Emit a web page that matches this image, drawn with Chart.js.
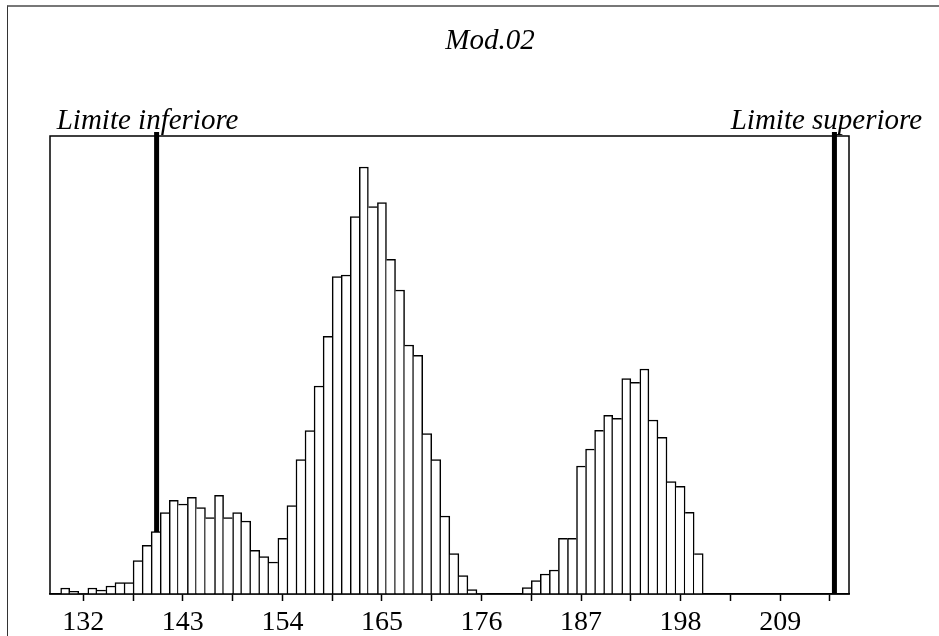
<!DOCTYPE html>
<html lang="it">
<head>
  <meta charset="UTF-8">
  <title>Mod.02</title>
  <script src="https://cdn.jsdelivr.net/npm/chart.js"></script>
  <style>
    body {
      margin: 0;
      background: #ffffff;
    }
    .wrap {
      position: relative;
      width: 939px;
      height: 636px;
      overflow: hidden;
    }
    .frame {
      position: absolute;
      left: 7px;
      top: 5px;
      width: 1000px;
      height: 700px;
      border-top: 2px solid #777;
      border-left: 1px solid #333;
    }
    canvas {
      position: absolute;
      left: 0;
      top: 0;
    }
  </style>
</head>
<body>

<div class="wrap">
  <div class="frame"></div>
  <canvas id="histChart" width="939" height="636"></canvas>
</div>

<script>
  // classi (valore centrale) e frequenze
  const classi = [
    130, 131, 132, 133, 134, 135, 136, 137, 138, 139,
    140, 141, 142, 143, 144, 145, 146, 147, 148, 149,
    150, 151, 152, 153, 154, 155, 156, 157, 158, 159,
    160, 161, 162, 163, 164, 165, 166, 167, 168, 169,
    170, 171, 172, 173, 174, 175, 176, 177, 178, 179,
    180, 181, 182, 183, 184, 185, 186, 187, 188, 189,
    190, 191, 192, 193, 194, 195, 196, 197, 198, 199, 200
  ];
  const frequenze = [
    3, 1.3, 0, 3, 2, 4, 5.7, 5.7, 16.7, 24.3,
    31.2, 40.7, 46.8, 45, 48.3, 43.2, 38.2, 49.3, 38.2, 40.7,
    36.5, 21.8, 18.7, 16, 27.8, 44.2, 67.2, 81.7, 104, 128.8,
    158.7, 159.5, 188.7, 213.5, 193.7, 195.7, 167.3, 152, 124.5, 119.3,
    80.2, 67.2, 39, 20.2, 9.2, 2.2, 0, 0, 0, 0,
    0, 3.2, 6.7, 10, 12, 27.8, 27.8, 64, 72.5, 81.8,
    89.3, 87.8, 107.7, 105.8, 112.5, 87, 78.3, 56.2, 53.8, 40.8, 20.2
  ];

  // tacche dell'asse x: principali con etichetta, intermedie senza
  const tacchePrincipali = [132, 143, 154, 165, 176, 187, 198, 209];
  const taccheIntermedie = [137.5, 148.5, 159.5, 170.5, 181.5, 192.5, 203.5, 214.5];

  const limiteInferiore = 140.1;
  const limiteSuperiore = 215.0;

  const X_MIN = 128.32;
  const X_MAX = 216.61;
  const Y_MAX = 229;
  const Y_LINEA = 231;

  const serif = "'Liberation Serif', 'Times New Roman', serif";

  // bordi delle barre: ogni lato condiviso viene disegnato una sola volta
  const BW = 1.5;
  function bordoBarra(ctx) {
    const i = ctx.dataIndex;
    const cur = frequenze[i];
    const prev = i > 0 ? frequenze[i - 1] : -1;
    const next = i < frequenze.length - 1 ? frequenze[i + 1] : -1;
    return {
      top: BW,
      bottom: 0,
      left: prev <= cur ? BW : 0,
      right: next < cur ? BW : 0
    };
  }

  const cornice = {
    id: 'cornice',
    afterDatasetsDraw(chart) {
      const { ctx, chartArea: a } = chart;
      ctx.save();
      ctx.strokeStyle = '#000';
      ctx.lineWidth = 1.5;
      ctx.strokeRect(a.left, a.top, a.right - a.left, a.bottom - a.top);
      ctx.restore();
    }
  };

  const testi = {
    id: 'testi',
    afterDraw(chart) {
      const { ctx } = chart;
      const x = chart.scales.x;
      ctx.save();
      ctx.fillStyle = '#000';
      ctx.textAlign = 'center';
      ctx.textBaseline = 'alphabetic';
      ctx.font = 'italic 29px ' + serif;
      ctx.fillText('Mod.02', 490, 49);
      ctx.fillText('Limite inferiore', x.getPixelForValue(limiteInferiore) - 9, 129);
      ctx.fillText('Limite superiore', x.getPixelForValue(limiteSuperiore) - 8, 129);
      ctx.restore();
    }
  };

  new Chart(document.getElementById('histChart'), {
    type: 'bar',
    data: {
      datasets: [
        {
          type: 'bar',
          data: classi.map((c, i) => ({ x: c, y: frequenze[i] })),
          backgroundColor: '#ffffff',
          borderColor: '#000000',
          borderWidth: bordoBarra,
          barPercentage: 1,
          categoryPercentage: 1,
          order: 1
        },
        {
          type: 'line',
          data: [{ x: limiteInferiore, y: 0 }, { x: limiteInferiore, y: Y_LINEA }],
          borderColor: '#000000',
          borderWidth: 5,
          pointRadius: 0,
          clip: false,
          order: 2
        },
        {
          type: 'line',
          data: [{ x: limiteSuperiore, y: 0 }, { x: limiteSuperiore, y: Y_LINEA }],
          borderColor: '#000000',
          borderWidth: 5,
          pointRadius: 0,
          clip: false,
          order: 2
        }
      ]
    },
    options: {
      responsive: false,
      animation: false,
      layout: { padding: { left: 50, right: 90, top: 136, bottom: -9 } },
      plugins: {
        legend: { display: false },
        title: { display: false },
        tooltip: { enabled: false }
      },
      scales: {
        x: {
          type: 'linear',
          min: X_MIN,
          max: X_MAX,
          offset: false,
          afterBuildTicks: scale => {
            scale.ticks = tacchePrincipali.concat(taccheIntermedie)
              .sort((a, b) => a - b)
              .map(v => ({ value: v }));
          },
          ticks: {
            autoSkip: false,
            maxRotation: 0,
            padding: 8,
            color: '#000',
            font: { family: serif, size: 28, lineHeight: 1.0 },
            callback: v => tacchePrincipali.includes(v) ? String(v) : ''
          },
          grid: {
            offset: false,
            drawOnChartArea: false,
            drawTicks: true,
            tickLength: 7,
            tickColor: '#000',
            tickWidth: 1.5
          },
          border: { display: true, color: '#000', width: 1.5 }
        },
        y: {
          display: false,
          min: 0,
          max: Y_MAX
        }
      }
    },
    plugins: [cornice, testi]
  });
</script>

</body>
</html>
